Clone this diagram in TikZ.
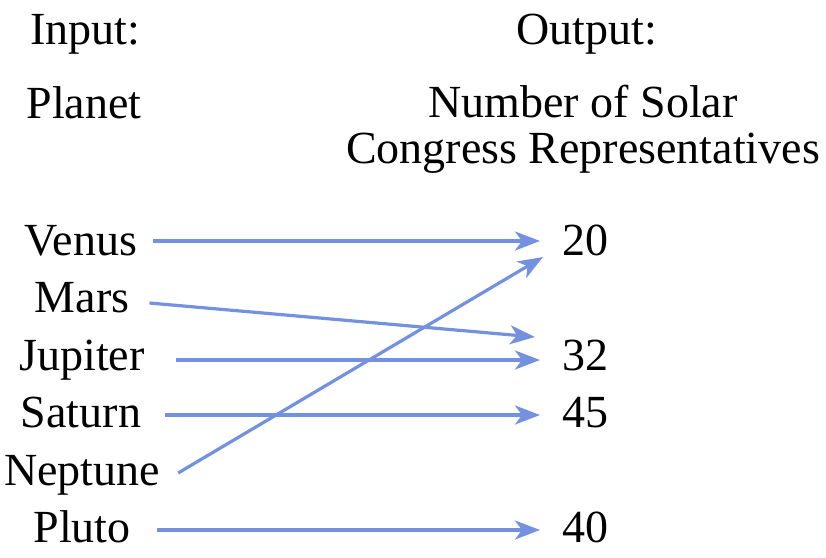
\documentclass[tikz,border=0pt]{standalone}
\usepackage{fontspec}
\setmainfont{Liberation Serif}
\usetikzlibrary{arrows.meta}
\definecolor{arrowblue}{RGB}{115,145,222}
\tikzset{
  lbl/.style={anchor=base, inner sep=0pt, font=\fontsize{46}{46}\selectfont},
  link/.style={draw=arrowblue, line width=3.2pt, -{Stealth[length=25pt,width=19pt,inset=7pt]}}
}
\begin{document}
\begin{tikzpicture}[x=1pt,y=-1pt]
\useasboundingbox (0,0) rectangle (826,557);
\node[lbl] (input) at (85,44){Input:};
\node[lbl] (planet) at (84,118){Planet};
\node[lbl] (output) at (587,44){Output:};
\node[lbl, align=center] (reps) at (583,163){Number of Solar\\Congress Representatives};

\node[lbl] (venus) at (81,255){Venus};
\node[lbl] (mars) at (82,312){Mars};
\node[lbl] (jupiter) at (82,370){Jupiter};
\node[lbl] (saturn) at (81,427){Saturn};
\node[lbl] (neptune) at (82,485){Neptune};
\node[lbl] (pluto) at (82,542){Pluto};

\node[lbl, anchor=base west] (n20) at (562,255){20};
\node[lbl, anchor=base west] (n32) at (562,370){32};
\node[lbl, anchor=base west] (n45) at (562,427){45};
\node[lbl, anchor=base west] (n40) at (562,542){40};

\draw[link]([shift={(16,-14)}]venus.base east) -- ([shift={(-22,-14)}]n20.base west);
\draw[link]([shift={(20,-9)}]mars.base east) -- ([shift={(-27,-33)}]n32.base west);
\draw[link]([shift={(31,-10)}]jupiter.base east) -- ([shift={(-22,-10)}]n32.base west);
\draw[link]([shift={(24,-12)}]saturn.base east) -- ([shift={(-22,-12)}]n45.base west);
\draw[link]([shift={(18,-12)}]neptune.base east) -- ([shift={(-19,2)}]n20.base west);
\draw[link]([shift={(26,-12)}]pluto.base east) -- ([shift={(-22,-12)}]n40.base west);

\end{tikzpicture}
\end{document}
